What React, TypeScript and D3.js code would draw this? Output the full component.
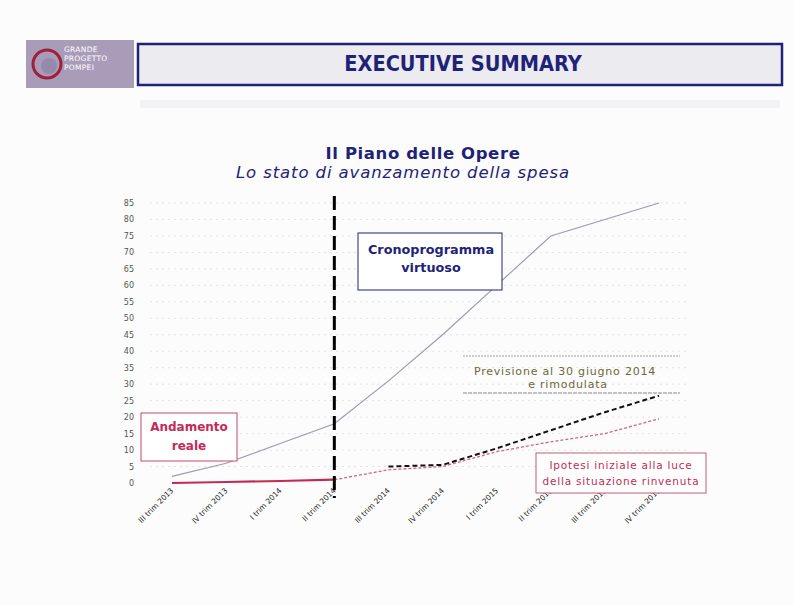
import React from "react";
import * as d3 from "d3";

const quarters = [
  "III trim 2013", "IV trim 2013", "I trim 2014", "II trim 2014", "III trim 2014",
  "IV trim 2014", "I trim 2015", "II trim 2015", "III trim 2015", "IV trim 2015",
];
const cronoprogramma: (number | null)[] = [2, 6, 12, 18, 31, 45, 60, 75, 80, 85];
const andamentoReale: (number | null)[] = [0, 0.3, 0.6, 1, null, null, null, null, null, null];
const ipotesiIniziale: (number | null)[] = [null, null, null, 1, 4, 5, 9.5, 12.5, 15, 19.5];
const previsione: (number | null)[] = [null, null, null, null, 5, 5.5, 10.5, 16, 21.5, 26.5];
const yTicks = d3.range(0, 90, 5);
const cutoffQuarter = "II trim 2014";

const W = 794;
const H = 605;

export default function App() {
  const x = d3.scalePoint<string>().domain(quarters).range([172, 659]);
  const y = d3.scaleLinear().domain([0, 85]).range([483, 203]);

  const mk = (vals: (number | null)[]) =>
    d3
      .line<number | null>()
      .defined((d) => d !== null)
      .x((_, i) => x(quarters[i]) as number)
      .y((d) => y(d as number))(vals) as string;

  const navy = "#1f2378";
  const crimson = "#c42a55";
  const font = "'DejaVu Sans', Verdana, sans-serif";
  const xc = x(cutoffQuarter) as number;

  return (
    <svg
      width={W}
      height={H}
      viewBox={`0 0 ${W} ${H}`}
      style={{ position: "absolute", left: 0, top: 0, background: "#fdfdfd" }}
      fontFamily={font}
    >
      <rect x={0} y={0} width={W} height={H} fill="#fcfcfc" />
      {/* header */}
      <rect x={26} y={40} width={108} height={48} fill="#a99cb9" />
      <circle cx={47} cy={64} r={14} fill="none" stroke="#a0203c" strokeWidth={3} />
      <circle cx={49} cy={66} r={8} fill="#8a7fa0" opacity={0.6} />
      <g fill="#ffffff" fontSize={7.5} style={{ letterSpacing: "0.3px" }}>
        <text x={64} y={52}>GRANDE</text>
        <text x={64} y={61}>PROGETTO</text>
        <text x={64} y={70}>POMPEI</text>
      </g>
      <rect x={138} y={44} width={644} height={41} fill="#ecebf0" stroke={navy} strokeWidth={2.5} />
      <text
        x={463}
        y={71}
        textAnchor="middle"
        fontSize={21.5}
        fontWeight="bold"
        fill={navy}
        style={{ fontStretch: "condensed" }}
        fontFamily="'DejaVu Sans Condensed', 'DejaVu Sans', sans-serif"
      >
        EXECUTIVE SUMMARY
      </text>
      <rect x={140} y={100} width={640} height={8} fill="#f3f3f5" />

      {/* titles */}
      <text x={423} y={159} textAnchor="middle" fontSize={16.5} fontWeight="bold" fill={navy} style={{ letterSpacing: "0.6px" }}>
        Il Piano delle Opere
      </text>
      <text x={403} y={178} textAnchor="middle" fontSize={16.5} fontStyle="italic" fill={navy} style={{ letterSpacing: "0.9px" }}>
        Lo stato di avanzamento della spesa
      </text>

      {/* grid */}
      <g stroke="#d8d8dc" strokeWidth={0.7} strokeDasharray="2,4">
        {yTicks.slice(1).map((t) => (
          <line key={t} x1={150} x2={690} y1={y(t)} y2={y(t)} />
        ))}
      </g>

      {/* y axis labels */}
      <g fontSize={8} fill="#555" textAnchor="end">
        {yTicks.map((t) => (
          <text key={t} x={134} y={y(t) + 3}>
            {t}
          </text>
        ))}
      </g>

      {/* x axis labels */}
      <g fontSize={7.5} fill="#222" textAnchor="end">
        {quarters.map((q) => (
          <text key={q} transform={`translate(${(x(q) as number) + 2},${491}) rotate(-45)`}>
            {q}
          </text>
        ))}
      </g>

      {/* lines */}
      <path d={mk(cronoprogramma)} fill="none" stroke="#9c9cae" strokeWidth={1.2} />
      <path d={mk(ipotesiIniziale)} fill="none" stroke="#cf6486" strokeWidth={1.3} strokeDasharray="3,2" />
      <path d={mk(previsione)} fill="none" stroke="#111" strokeWidth={2} strokeDasharray="5,3" />
      <path d={mk(andamentoReale)} fill="none" stroke={crimson} strokeWidth={2.2} />

      {/* cutoff line */}
      <line x1={xc} x2={xc} y1={196} y2={498} stroke="#000" strokeWidth={3} strokeDasharray="14,6" />

      {/* annotation boxes */}
      <rect x={358} y={233} width={144} height={57} fill="#fff" stroke={navy} strokeWidth={1} />
      <g fill={navy} fontSize={12.8} fontWeight="bold" textAnchor="middle">
        <text x={431} y={254}>Cronoprogramma</text>
        <text x={431} y={272}>virtuoso</text>
      </g>

      <rect x={141} y={413} width={96} height={48} fill="#fff" stroke="#c44a6a" strokeWidth={1} />
      <g fill={crimson} fontSize={12} fontWeight="bold" textAnchor="middle">
        <text x={189} y={431}>Andamento</text>
        <text x={189} y={450}>reale</text>
      </g>

      <line x1={463} x2={680} y1={356} y2={356} stroke="#999" strokeWidth={1} strokeDasharray="2,1" />
      <line x1={463} x2={680} y1={393} y2={393} stroke="#888" strokeWidth={1.2} strokeDasharray="4,1" />
      <g fill="#6e6838" fontSize={11} textAnchor="middle" style={{ letterSpacing: "0.8px" }}>
        <text x={565} y={375}>Previsione al 30 giugno 2014</text>
        <text x={568} y={388}>e rimodulata</text>
      </g>

      <rect x={536} y={453} width={170} height={40} fill="#fff" stroke="#c45a78" strokeWidth={1} />
      <g fill={crimson} fontSize={10.5} textAnchor="middle" style={{ letterSpacing: "0.8px" }}>
        <text x={621} y={469}>Ipotesi iniziale alla luce</text>
        <text x={621} y={485}>della situazione rinvenuta</text>
      </g>
    </svg>
  );
}
